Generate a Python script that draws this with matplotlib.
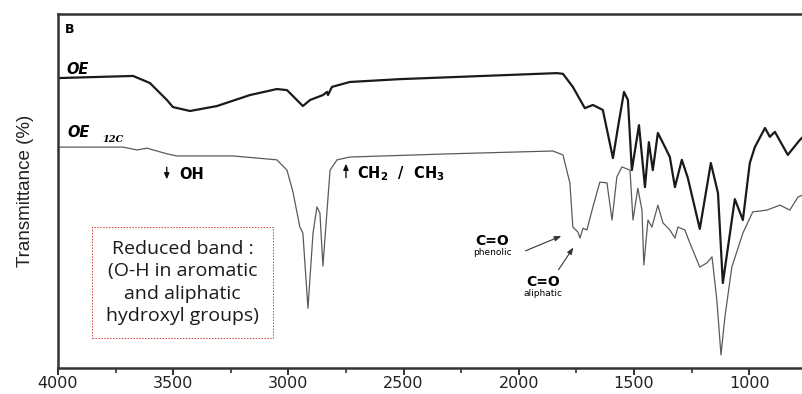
import matplotlib.pyplot as plt
from matplotlib.patches import Rectangle
import numpy as np

# wavenumber (cm-1) / transmittance (arbitrary %)
oe_wn = [4000, 3674, 3601, 3527, 3501, 3427, 3310, 3167, 3050, 3006, 2937, 2906,
         2850, 2832, 2828, 2811, 2733, 2516, 1834, 1808, 1765, 1713, 1678, 1635,
         1591, 1569, 1543, 1526, 1509, 1478, 1452, 1435, 1418, 1396, 1365, 1344,
         1322, 1292, 1266, 1214, 1166, 1135, 1114, 1083, 1062, 1027, 997, 975,
         931, 910, 888, 832, 780, 766]
oe_t = [81.9, 82.5, 80.5, 75.7, 73.7, 72.6, 74.0, 77.1, 78.8, 78.5, 74.0, 75.7,
        77.1, 78.0, 77.1, 79.4, 80.8, 81.6, 83.3, 83.1, 79.4, 73.4, 74.3, 72.9,
        59.3, 68.1, 78.0, 75.7, 55.9, 68.6, 51.1, 63.8, 55.9, 66.4, 62.4, 59.6,
        51.1, 58.8, 53.7, 39.3, 57.9, 49.4, 24.0, 38.1, 47.7, 41.8, 57.9, 62.4,
        67.8, 65.3, 66.7, 60.2, 64.4, 65.3]

oe12_wn = [4000, 3718, 3657, 3614, 3527, 3484, 3240, 3050, 3006, 2980, 2950, 2937,
           2915, 2893, 2876, 2863, 2850, 2832, 2819, 2789, 2733, 2299, 1852, 1808,
           1778, 1765, 1743, 1734, 1721, 1704, 1678, 1648, 1617, 1595, 1574, 1552,
           1517, 1504, 1483, 1465, 1457, 1439, 1422, 1396, 1374, 1344, 1322, 1309,
           1279, 1257, 1214, 1183, 1161, 1140, 1122, 1105, 1075, 1027, 984, 923,
           866, 823, 788, 766]
oe12_t = [62.4, 62.4, 61.6, 62.1, 60.5, 59.9, 59.9, 58.8, 55.9, 49.7, 39.8, 38.1,
          16.9, 38.1, 45.5, 43.8, 28.8, 44.6, 55.9, 58.8, 59.6, 60.5, 61.3, 60.2,
          52.3, 39.8, 38.4, 36.7, 39.5, 39.0, 45.5, 52.5, 52.3, 41.8, 54.0, 56.8,
          55.9, 41.8, 50.8, 44.6, 29.1, 41.8, 39.8, 46.0, 41.0, 39.0, 36.7, 39.8,
          39.0, 35.3, 28.5, 29.7, 31.4, 19.2, 3.7, 14.4, 28.5, 38.1, 44.1, 44.6,
          46.0, 44.6, 48.3, 48.9]

xticks = [4000, 3500, 3000, 2500, 2000, 1500, 1000]

fig = plt.figure(figsize=(8.03, 3.94), dpi=100)
ax = fig.add_axes([58 / 803, 1 - 368 / 394, 745 / 803, 354 / 394])

ax.plot(oe_wn, oe_t, color='#1a1a1a', lw=1.6)
ax.plot(oe12_wn, oe12_t, color='#5a5a5a', lw=0.9)

ax.set_xlim(4000, 766)
ax.set_ylim(0, 100)
ax.set_xticks(xticks)
ax.set_xticks(np.arange(3750, 766, -500), minor=True)
ax.set_yticks([])
ax.tick_params(axis='x', which='major', direction='out', length=5, width=1.3,
               labelsize=11.5, pad=1, colors='#222222')
ax.tick_params(axis='x', which='minor', direction='out', length=3.5, width=1.1,
               colors='#222222')
ax.spines['right'].set_visible(False)
for s in ['left', 'top', 'bottom']:
    ax.spines[s].set_linewidth(1.8)
    ax.spines[s].set_color('#333333')

ax.set_ylabel('Transmittance (%)', fontsize=13.5, family='Liberation Sans',
              labelpad=17, color='#222222')

tr = ax.transAxes
ax.text(0.009, 0.957, 'B', transform=tr, fontsize=9, weight='bold', va='center')
ax.text(0.012, 0.844, 'OE', transform=tr, fontsize=10.5, weight='bold',
        style='italic', va='center')
ax.text(0.013, 0.665, 'OE', transform=tr, fontsize=10.5, weight='bold',
        style='italic', va='center')
ax.text(0.059, 0.645, '12C', transform=tr, fontsize=7, weight='bold',
        style='italic', family='DejaVu Serif', va='center')

# OH and CH2/CH3 marks
arr = dict(arrowstyle='-|>,head_width=0.15,head_length=0.35', color='#111111', lw=1)
ax.annotate('', xy=(3528, 52.5), xytext=(3528, 57.5), arrowprops=arr)
ax.text(3475, 54.8, 'OH', fontsize=10.5, weight='bold', va='center')
ax.annotate('', xy=(2750, 58.5), xytext=(2750, 53.0), arrowprops=arr)
ax.text(2700, 54.8, 'CH$_\\mathbf{2}$  /  CH$_\\mathbf{3}$', fontsize=10.5,
        weight='bold', va='center')

# C=O labels
ax.text(2116, 35.9, 'C=O', fontsize=10, weight='bold', ha='center', va='center')
ax.text(2116, 32.6, 'phenolic', fontsize=6.5, ha='center', va='center')
ax.annotate('', xy=(1804, 37.6), xytext=(1982, 32.8),
            arrowprops=dict(arrowstyle='-|>,head_width=0.15,head_length=0.4',
                            color='#333333', lw=0.8))
ax.text(1895, 24.3, 'C=O', fontsize=10, weight='bold', ha='center', va='center')
ax.text(1895, 21.0, 'aliphatic', fontsize=6.5, ha='center', va='center')
ax.annotate('', xy=(1756, 34.7), xytext=(1834, 27.1),
            arrowprops=dict(arrowstyle='-|>,head_width=0.15,head_length=0.4',
                            color='#333333', lw=0.8))

# annotation box
ax.add_patch(Rectangle((34 / 745, 30 / 354), 181 / 745, 111 / 354, transform=tr,
                       fc='white', ec='#d04040', ls=(0, (1.5, 1.5)), lw=0.7,
                       zorder=3))
ax.text(0.167, 0.2415, 'Reduced band :\n(O-H in aromatic\nand aliphatic\nhydroxyl groups)',
        transform=tr, fontsize=14, family='Open Sans', ha='center', va='center',
        linespacing=1.3, color='#1a1a1a', zorder=4)

fig.savefig('out.png', dpi=100)
